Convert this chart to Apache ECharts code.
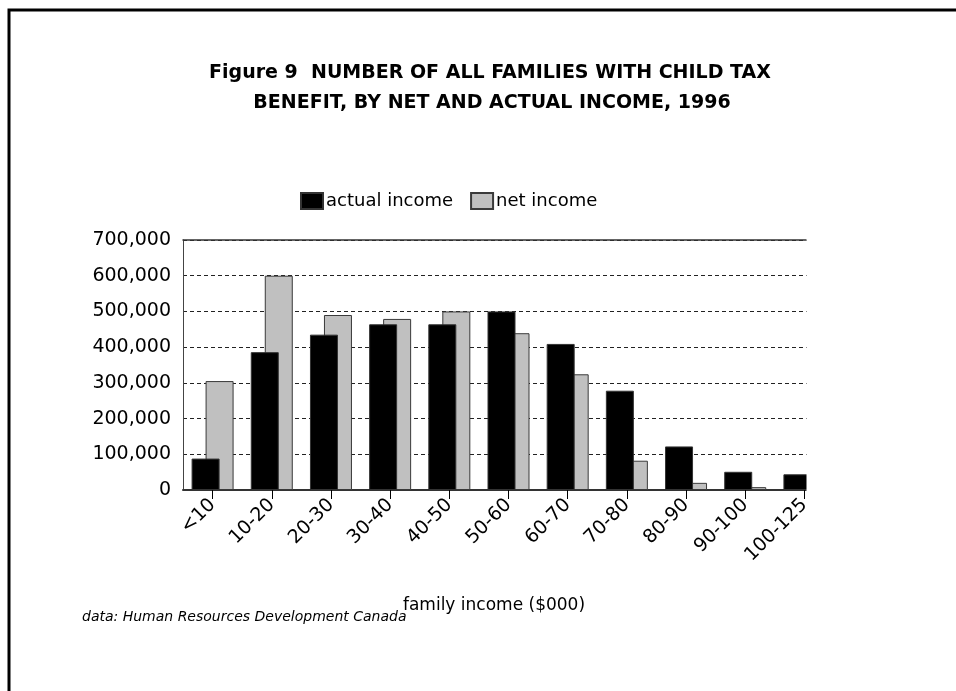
<!DOCTYPE html>
<html>
<head>
<meta charset="utf-8">
<title>Families with Child Tax Benefit by income, 1996</title>
<script src="https://cdn.jsdelivr.net/npm/echarts@6/dist/echarts.min.js"></script>
<style>
  html, body { margin: 0; padding: 0; background: #fff; }
  #chart { width: 956px; height: 691px; }
</style>
</head>
<body>
<div id="chart"></div>
<script>
// Income brackets ($000)
const categories = ['<10', '10-20', '20-30', '30-40', '40-50', '50-60', '60-70', '70-80', '80-90', '90-100', '100-125'];
// Number of families, by actual income
const actualIncome = [88000, 386000, 435000, 464000, 464000, 500000, 409000, 278000, 122000, 51000, 44000];
// Number of families, by net income
const netIncome = [305000, 600000, 490000, 479000, 500000, 439000, 324000, 82000, 20000, 8000, 3000];
// Value axis ticks
const yTicks = [0, 100000, 200000, 300000, 400000, 500000, 600000, 700000];

const titleLines = ['Figure 9  NUMBER OF ALL FAMILIES WITH CHILD TAX', 'BENEFIT, BY NET AND ACTUAL INCOME, 1996'];
const axisTitle = 'family income ($000)';
const sourceNote = 'data: Human Resources Development Canada';

const FONT = '"DejaVu Sans", "Liberation Sans", Arial, sans-serif';

const chart = echarts.init(document.getElementById('chart'), null, { renderer: 'canvas' });

const gridLeft = 183, gridTop = 240, gridBottom = 201, gridWidth = 651;

chart.setOption({
  backgroundColor: '#ffffff',
  animation: false,
  textStyle: { fontFamily: FONT, color: '#000' },
  legend: {
    data: ['actual income', 'net income'],
    left: 300,
    top: 192,
    padding: 0,
    icon: 'rect',
    itemWidth: 22,
    itemHeight: 16,
    itemGap: 17,
    textStyle: { fontFamily: FONT, fontSize: 18, color: '#000', padding: [0, 0, 0, -2] }
  },
  grid: { left: gridLeft, top: gridTop, bottom: gridBottom, width: gridWidth, containLabel: false },
  xAxis: [
    {
      type: 'category',
      data: categories,
      position: 'bottom',
      axisLine: { show: true, lineStyle: { color: '#333', width: 2 } },
      axisTick: { show: true, alignWithLabel: true, length: 9, lineStyle: { color: '#000', width: 1 } },
      axisLabel: { rotate: 45, fontFamily: FONT, fontSize: 19, color: '#000', margin: 12, interval: 0 },
      splitLine: { show: false }
    },
    {
      type: 'category',
      data: categories,
      position: 'top',
      axisLine: { show: true, lineStyle: { color: '#333', width: 1.5 } },
      axisTick: { show: false },
      axisLabel: { show: false },
      splitLine: { show: false }
    }
  ],
  yAxis: {
    type: 'value',
    min: yTicks[0],
    max: yTicks[yTicks.length - 1],
    interval: yTicks[1] - yTicks[0],
    axisLine: { show: true, lineStyle: { color: '#444', width: 1 } },
    axisTick: { show: false },
    axisLabel: {
      fontFamily: FONT, fontSize: 19, color: '#000', margin: 12,
      formatter: v => v.toLocaleString('en-US')
    },
    splitLine: { show: true, lineStyle: { color: '#222', width: 1, type: [4, 3] } }
  },
  series: [
    {
      name: 'actual income',
      type: 'bar',
      data: actualIncome,
      barWidth: 28,
      barGap: '-50%',
      z: 3,
      itemStyle: { color: '#000000', borderColor: '#333', borderWidth: 1 }
    },
    {
      name: 'net income',
      type: 'bar',
      data: netIncome,
      barWidth: 28,
      barGap: '-50%',
      z: 2,
      itemStyle: { color: '#c0c0c0', borderColor: '#3a3a3a', borderWidth: 1 }
    }
  ],
  graphic: [
    // the plot is cut off midway through the last bracket
    { type: 'rect', z: 100, shape: { x: 806.5, y: 232, width: 150, height: 360 }, style: { fill: '#fff' } },
    // page frame
    { type: 'polyline', z: 100, shape: { points: [[9, 691], [9, 10], [956, 10]] }, style: { stroke: '#000', lineWidth: 3, fill: null } },
    { type: 'text', z: 100, style: { text: titleLines[0], x: 490, y: 73, align: 'center', verticalAlign: 'middle', font: 'bold 19px ' + FONT, fill: '#000' } },
    { type: 'text', z: 100, style: { text: titleLines[1], x: 492, y: 103, align: 'center', verticalAlign: 'middle', font: 'bold 19px ' + FONT, fill: '#000' } },
    { type: 'text', z: 100, style: { text: axisTitle, x: 494, y: 606, align: 'center', verticalAlign: 'middle', font: '17px ' + FONT, fill: '#000' } },
    { type: 'text', z: 100, style: { text: sourceNote, x: 82, y: 617, align: 'left', verticalAlign: 'middle', font: 'italic 14px ' + FONT, fill: '#000' } }
  ]
});
</script>
</body>
</html>
